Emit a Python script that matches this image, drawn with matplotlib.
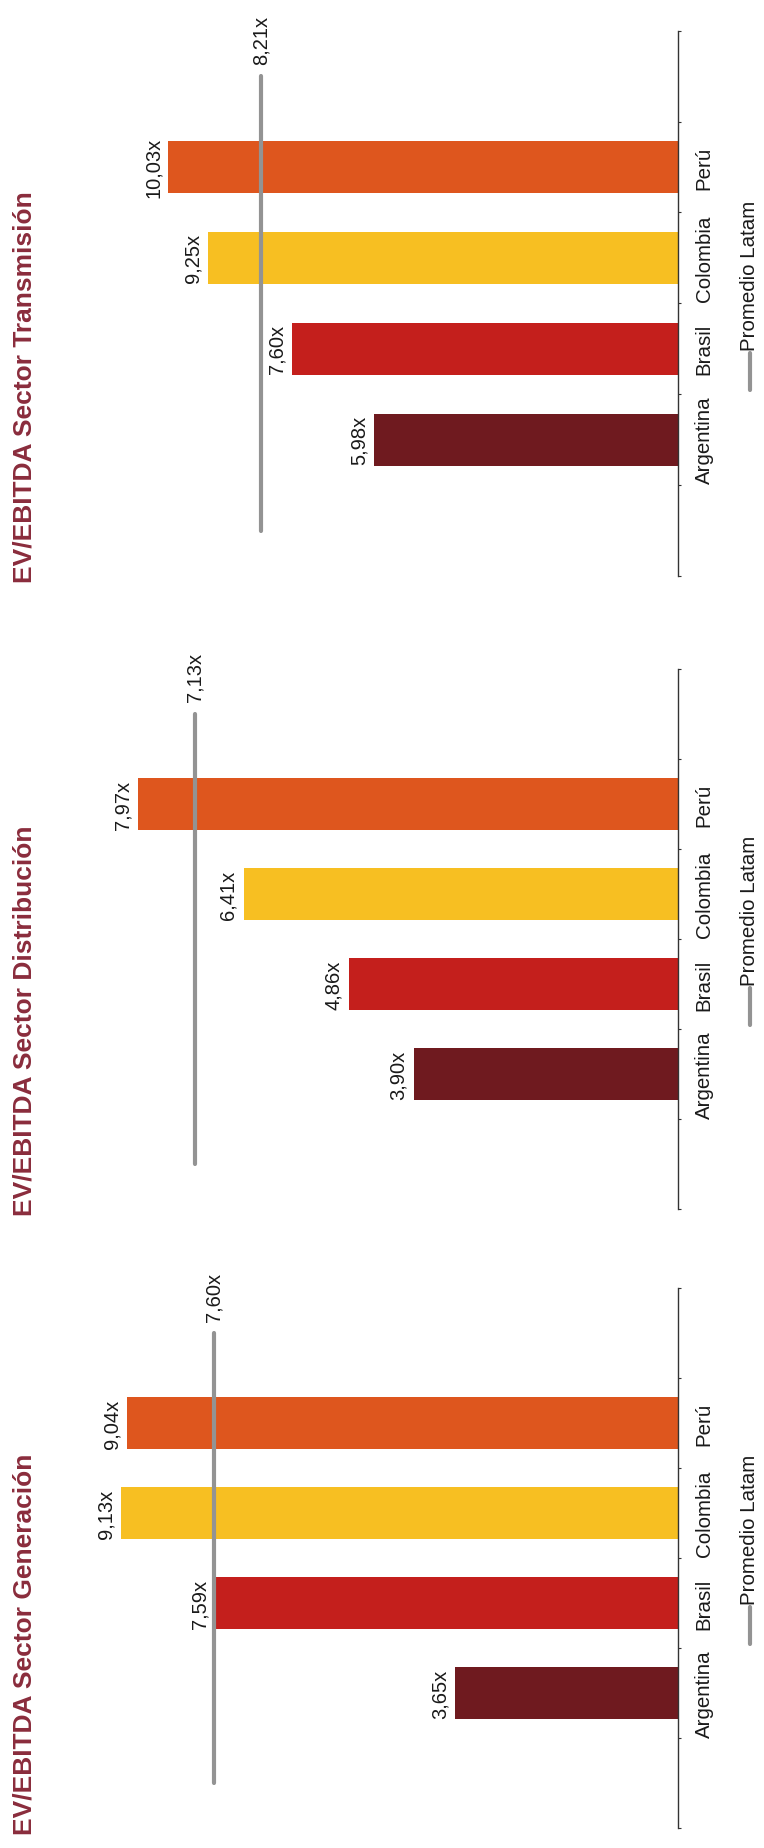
import numpy as np
import matplotlib
matplotlib.use('Agg')
import matplotlib.pyplot as plt

plt.rcParams['font.family'] = ['Liberation Sans', 'DejaVu Sans']

# datos
paises = ['Argentina', 'Brasil', 'Colombia', 'Perú']
colores = ['#6f1a1f', '#c41f1c', '#f7bf22', '#de561e']

titulos = ['EV/EBITDA Sector Transmisión',
           'EV/EBITDA Sector Distribución',
           'EV/EBITDA Sector Generación']
transmision = [5.98, 7.60, 9.25, 10.03]
distribucion = [3.90, 4.86, 6.41, 7.97]
generacion = [3.65, 7.59, 9.13, 9.04]
promedios = [8.21, 7.13, 7.60]
eje_max = [12, 9, 10]

series = [transmision, distribucion, generacion]

W, H = 764, 1849
fig = plt.figure(figsize=(W / 100, H / 100), dpi=100)

# (arriba, abajo) de cada panel en pixeles
paneles = [(31.7, 577), (670, 1210), (1289, 1829)]
izq, der = 68, 678

def fmt(v):
    return ('%.2f' % v).replace('.', ',') + 'x'

for k in range(3):
    top, bot = paneles[k]
    ax = fig.add_axes([izq / W, 1 - bot / H, (der - izq) / W, (bot - top) / H])
    vals = series[k]
    pos = np.arange(1, len(paises) + 1)
    ax.barh(pos, vals, height=0.57, color=colores, zorder=2)
    ax.set_xlim(eje_max[k], 0)
    ax.set_ylim(-0.5, 5.5)

    # linea promedio
    ax.plot([promedios[k], promedios[k]], [0, 5], color='#939393', lw=3,
            solid_capstyle='round', zorder=3)
    ax.annotate(fmt(promedios[k]), (promedios[k], 5), xytext=(0, 9),
                textcoords='offset points', rotation=90, ha='center',
                va='bottom', fontsize=14.5, color='#1a1a1a')

    for p, v in zip(pos, vals):
        ax.annotate(fmt(v), (v, p), xytext=(-4, 0), textcoords='offset points',
                    rotation=90, ha='right', va='center', fontsize=14.5,
                    color='#1a1a1a')

    for s in ['left', 'top', 'bottom']:
        ax.spines[s].set_visible(False)
    ax.spines['right'].set_color('#333333')
    ax.spines['right'].set_linewidth(1.0)
    ax.set_xticks([])
    ax.yaxis.tick_right()
    ax.set_yticks(np.arange(-0.5, 6, 1))
    ax.set_yticklabels([])
    ax.set_yticks(pos, minor=True)
    ax.set_yticklabels(paises, minor=True, rotation=90, va='center',
                       fontsize=14.8, color='#1a1a1a')
    ax.tick_params(axis='y', which='major', length=2, width=0.8,
                   color='#333333', direction='out')
    ax.tick_params(axis='y', which='minor', length=0, pad=12)

    # leyenda
    ax.plot([1.118, 1.118], [0.341, 0.409], transform=ax.transAxes,
            clip_on=False, color='#939393', lw=3, solid_capstyle='round')
    ax.text(1.118, 0.415, 'Promedio Latam', transform=ax.transAxes,
            rotation=90, ha='center', va='bottom', fontsize=14.8,
            color='#1a1a1a')

    fig.text(25 / W, 1 - (bot + 6) / H, titulos[k], rotation=90,
             ha='center', va='bottom', fontsize=19, fontweight='bold',
             color='#8a2c3c')

fig.savefig('out.png', dpi=100, facecolor='white')
